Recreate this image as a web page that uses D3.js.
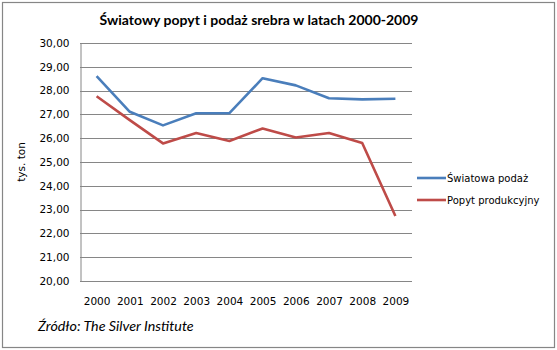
<!DOCTYPE html>
<html><head><meta charset="utf-8">
<script src="https://cdn.jsdelivr.net/npm/d3@7"></script>
<style>body{margin:0;background:#fff}svg{display:block}</style>
</head><body>
<script>
const years = ["2000","2001","2002","2003","2004","2005","2006","2007","2008","2009"];
const supply = [28.61,27.11,26.54,27.05,27.05,28.52,28.22,27.68,27.63,27.66];
const demand = [27.76,26.76,25.78,26.22,25.88,26.41,26.03,26.22,25.80,22.73];
const yTicks = [20,21,22,23,24,25,26,27,28,29,30];
const seriesNames = ["Światowa podaż","Popyt produkcyjny"];
const colors = ["#4a7ebb","#be4b48"];

const W=557,H=350;
const svg=d3.select("body").append("svg").attr("width",W).attr("height",H);
svg.append("rect").attr("x",2.5).attr("y",2.5).attr("width",552).attr("height",345)
  .attr("fill","#fff").attr("stroke","#868686").attr("stroke-width",1.2);

const L=80,R=412,T=43,B=281;
const x=d3.scalePoint().domain(years).range([L,R]).padding(0.5);
const y=d3.scaleLinear().domain([20,30]).range([B,T]);

const grid=svg.append("g");
grid.selectAll("line").data(yTicks).join("line")
  .attr("x1",L).attr("x2",R).attr("y1",d=>Math.round(y(d))+0.5).attr("y2",d=>Math.round(y(d))+0.5)
  .attr("stroke","#868686").attr("stroke-width",1);

const yAxis=svg.append("g").attr("transform",`translate(${L+0.5},0)`)
  .call(d3.axisLeft(y).tickValues(yTicks).tickSize(0).tickPadding(11)
    .tickFormat(d=>d3.format(".2f")(d).replace(".",",")));
yAxis.select(".domain").attr("stroke","#868686");
yAxis.selectAll("text").attr("font-family","Verdana, DejaVu Sans, sans-serif").attr("font-size","10.5px").attr("fill","#000");

const xAxis=svg.append("g").attr("transform",`translate(0,${B+0.5})`)
  .call(d3.axisBottom(x).tickSize(0).tickPadding(16));
xAxis.select(".domain").attr("stroke","#868686").attr("d",`M${L},0H${R}`);
xAxis.selectAll("text").attr("font-family","Verdana, DejaVu Sans, sans-serif").attr("font-size","10.5px").attr("fill","#000");

const line=d3.line().x((d,i)=>x(years[i])).y(d=>y(d));
[supply,demand].forEach((s,i)=>{
  svg.append("path").datum(s).attr("d",line).attr("fill","none")
    .attr("stroke",colors[i]).attr("stroke-width",2.6).attr("stroke-linejoin","round");
});

svg.append("text").attr("x",259).attr("y",25).attr("text-anchor","middle")
  .attr("font-family","Lato, sans-serif").attr("font-weight","bold").attr("font-size","14px")
  .text("Światowy popyt i podaż srebra w latach 2000-2009");

svg.append("text").attr("transform","translate(25,162) rotate(-90)").attr("text-anchor","middle")
  .attr("font-family","Verdana, DejaVu Sans, sans-serif").attr("font-size","10.5px").text("tys. ton");

const leg=svg.append("g");
seriesNames.forEach((n,i)=>{
  const yy=178+i*22;
  leg.append("line").attr("x1",417).attr("x2",446).attr("y1",yy).attr("y2",yy)
    .attr("stroke",colors[i]).attr("stroke-width",2.6);
  leg.append("text").attr("x",447).attr("y",yy+4)
    .attr("font-family","Verdana, DejaVu Sans, sans-serif").attr("font-size","10px").text(n);
});

svg.append("text").attr("x",38).attr("y",331)
  .attr("font-family","Lato, sans-serif").attr("font-style","italic").attr("font-size","14.3px")
  .text("Źródło: The Silver Institute");
</script>
</body></html>
